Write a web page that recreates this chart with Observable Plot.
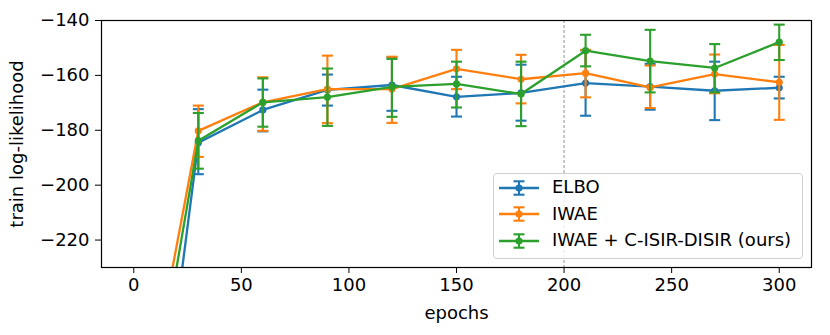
<!DOCTYPE html>
<html>
<head>
<meta charset="utf-8">
<script src="https://cdn.jsdelivr.net/npm/d3@7"></script>
<script src="https://cdn.jsdelivr.net/npm/@observablehq/plot@0.6"></script>
<style>
  body { margin: 0; background: white; font-family: "DejaVu Sans", sans-serif; }
  #wrap { position: relative; width: 830px; height: 335px; }
  .legend { position: absolute; left: 493px; top: 173px; width: 308px; height: 84px;
            border: 1px solid #d0d0d0; border-radius: 4px; background: rgba(255,255,255,0.8);
            font-family: "DejaVu Sans", sans-serif; font-size: 18px; color: black; }
  .legend .row { position: absolute; left: 0; height: 26px; }
  .legend svg { position: absolute; left: 4px; top: 0; }
  .legend span { position: absolute; left: 58px; top: 1.5px; white-space: nowrap; }
</style>
</head>
<body>
<div id="wrap"></div>
<script>
const epochs = [0, 30, 60, 90, 120, 150, 180, 210, 240, 270, 300];
const seriesNames = ["ELBO", "IWAE", "IWAE + C-ISIR-DISIR (ours)"];
const colors = ["#1f77b4", "#ff7f0e", "#2ca02c"];

const elbo   = [-368, -184.5, -172.6, -165.3, -163.5, -167.8, -166.4, -162.8, -164.1, -165.6, -164.5];
const elboLo = [null, -196.0, -180.4, -171.0, -172.9, -175.0, -176.5, -174.7, -172.5, -176.3, -168.4];
const elboHi = [null, -172.3, -165.2, -159.7, -153.4, -160.5, -156.1, -150.9, -155.8, -155.0, -160.5];

const iwae   = [-305, -180.2, -169.8, -165.0, -165.0, -157.6, -161.4, -159.2, -164.4, -159.5, -162.5];
const iwaeLo = [null, -189.7, -180.2, -177.4, -177.3, -165.0, -170.2, -168.0, -171.9, -166.5, -176.2];
const iwaeHi = [null, -171.0, -160.7, -152.8, -153.2, -150.7, -152.5, -150.7, -156.4, -152.4, -148.9];

const ours   = [-321, -183.8, -169.8, -167.9, -164.2, -163.1, -166.8, -151.0, -154.8, -157.3, -147.9];
const oursLo = [null, -194.0, -178.7, -178.4, -175.1, -171.7, -178.5, -156.7, -166.2, -166.2, -154.4];
const oursHi = [null, -173.7, -161.1, -157.5, -154.0, -155.0, -155.0, -145.2, -143.4, -148.6, -141.5];

const xTicks = [0, 50, 100, 150, 200, 250, 300];
const yTicks = [-220, -200, -180, -160, -140];
const vLineAt = [200];

const series = [
  {name: seriesNames[0], mean: elbo, lo: elboLo, hi: elboHi, color: colors[0]},
  {name: seriesNames[1], mean: iwae, lo: iwaeLo, hi: iwaeHi, color: colors[1]},
  {name: seriesNames[2], mean: ours, lo: oursLo, hi: oursHi, color: colors[2]}
];

// custom "cap" symbol: a horizontal segment
const capSymbol = {
  draw(context, size) {
    const w = Math.sqrt(size / Math.PI);
    context.moveTo(-w, 0);
    context.lineTo(w, 0);
  }
};

const marks = [
  Plot.ruleX(vLineAt, {stroke: "#888", strokeWidth: 0.9, strokeDasharray: "3,2"})
];

for (const s of series) {
  const rows = epochs.map((e, i) => ({x: e, y: s.mean[i], lo: s.lo[i], hi: s.hi[i]}));
  const withErr = rows.filter(d => d.lo != null);
  marks.push(
    Plot.line(rows, {x: "x", y: "y", stroke: s.color, strokeWidth: 2.3, clip: true}),
    Plot.ruleX(withErr, {x: "x", y1: "lo", y2: "hi", stroke: s.color, strokeWidth: 2.1, clip: true}),
    Plot.dot(withErr, {x: "x", y: "lo", symbol: capSymbol, r: 5.5, stroke: s.color, strokeWidth: 2.1, fill: "none", clip: true}),
    Plot.dot(withErr, {x: "x", y: "hi", symbol: capSymbol, r: 5.5, stroke: s.color, strokeWidth: 2.1, fill: "none", clip: true}),
    Plot.dot(rows, {x: "x", y: "y", r: 3.6, fill: s.color, stroke: "none", clip: true})
  );
}

marks.push(
  Plot.frame({stroke: "black", strokeWidth: 1.2}),
  Plot.axisX({ticks: xTicks, tickSize: 6, tickPadding: 5, label: "epochs", labelAnchor: "center", labelArrow: "none", labelOffset: 51, fontSize: 18}),
  Plot.axisY({ticks: yTicks, tickSize: 6, tickPadding: 6, label: "train log-likelihood", labelAnchor: "center", labelArrow: "none", labelOffset: 91, fontSize: 18})
);

const chart = Plot.plot({
  width: 830,
  height: 335,
  marginLeft: 101,
  marginRight: 19,
  marginTop: 20,
  marginBottom: 68,
  style: {fontFamily: "DejaVu Sans", fontSize: "18px", color: "black", background: "white"},
  x: {domain: [-15, 315]},
  y: {domain: [-230, -140]},
  marks
});

const wrap = document.getElementById("wrap");
wrap.appendChild(chart);

// legend
const legend = document.createElement("div");
legend.className = "legend";
const rowTops = [0, 26.5, 53];
series.forEach((s, i) => {
  const row = document.createElement("div");
  row.className = "row";
  row.style.top = (rowTops[i] + 0.5) + "px";
  row.style.width = "100%";
  row.innerHTML =
    `<svg width="46" height="26" viewBox="0 0 46 26">
       <line x1="1" x2="41" y1="13" y2="13" stroke="${s.color}" stroke-width="2.3"/>
       <line x1="21" x2="21" y1="6.3" y2="19.7" stroke="${s.color}" stroke-width="2.1"/>
       <line x1="15.5" x2="26.5" y1="6.3" y2="6.3" stroke="${s.color}" stroke-width="2.1"/>
       <line x1="15.5" x2="26.5" y1="19.7" y2="19.7" stroke="${s.color}" stroke-width="2.1"/>
       <circle cx="21" cy="13" r="3.6" fill="${s.color}"/>
     </svg><span>${s.name}</span>`;
  legend.appendChild(row);
});
wrap.appendChild(legend);
</script>
</body>
</html>
